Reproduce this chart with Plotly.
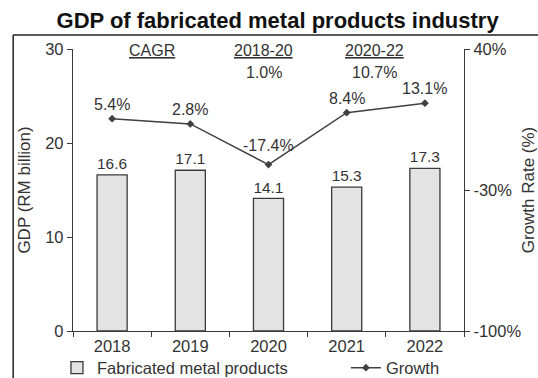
import plotly.graph_objects as go

# Data
years = ["2018", "2019", "2020", "2021", "2022"]
gdp = [16.6, 17.1, 14.1, 15.3, 17.3]          # RM billion
growth = [5.4, 2.8, -17.4, 8.4, 13.1]          # %
growth_label_shift = [4, 4, 9, 4, 4]           # px above point
cagr_periods = ["2018-20", "2020-22"]
cagr_values = ["1.0%", "10.7%"]
y2_ticks = [-100, -30, 40]

FONT = "Liberation Sans, Arial, sans-serif"
INK = "#333333"

fig = go.Figure()

fig.add_trace(go.Bar(
    x=years, y=gdp, name="Fabricated metal products",
    marker=dict(color="#e3e3e3", line=dict(color="#3a3a3a", width=1.3)),
    width=0.385,
    text=[f"{v:.1f}" for v in gdp], textposition="outside",
    textfont=dict(size=16, color=INK, family=FONT),
    cliponaxis=False, legend="legend",
))

fig.add_trace(go.Scatter(
    x=years, y=growth, name="Growth", yaxis="y2",
    mode="lines+markers",
    line=dict(color="#404040", width=1.5),
    marker=dict(symbol="diamond", size=6, color="#404040"),
    legend="legend2",
))

# growth labels above each point (x given as category index)
for i, (g, s) in enumerate(zip(growth, growth_label_shift)):
    fig.add_annotation(x=i, y=g, xref="x", yref="y2", text=f"{g:.1f}%",
                       showarrow=False, yanchor="bottom", yshift=s,
                       font=dict(size=16, color=INK, family=FONT))

# CAGR header
fig.add_annotation(x=0.202, y=0.993, xref="paper", yref="paper", text="CAGR",
                   showarrow=False, xanchor="center", yanchor="middle",
                   font=dict(size=16, color=INK, family=FONT, lineposition="under"))
for xp, per, val in zip([0.488, 0.772], cagr_periods, cagr_values):
    fig.add_annotation(x=xp, y=0.993, xref="paper", yref="paper", text=per,
                       showarrow=False, xanchor="center", yanchor="middle",
                       font=dict(size=16, color=INK, family=FONT, lineposition="under"))
    fig.add_annotation(x=xp, y=0.918, xref="paper", yref="paper", text=val,
                       showarrow=False, xanchor="center", yanchor="middle",
                       font=dict(size=16, color=INK, family=FONT))

# outer frame (left and top edges)
fig.add_shape(type="line", xref="paper", yref="paper",
              x0=-0.153, x1=-0.153, y0=1.05, y1=-0.2,
              line=dict(color="#222222", width=1.5))
fig.add_shape(type="line", xref="paper", yref="paper",
              x0=-0.153, x1=1.3, y0=1.05, y1=1.05,
              line=dict(color="#222222", width=1.5))

axis_common = dict(showgrid=False, zeroline=False, showline=True,
                   linecolor="#3a3a3a", linewidth=1.3, ticks="outside",
                   ticklen=5, tickcolor="#3a3a3a",
                   tickfont=dict(size=16.5, color=INK, family=FONT))

legend_common = dict(orientation="h", yanchor="middle", xanchor="left",
                     font=dict(size=16.5, color=INK, family=FONT),
                     itemwidth=30, bgcolor="rgba(0,0,0,0)")

fig.update_layout(
    width=538, height=378,
    margin=dict(l=73, r=74, t=49, b=47, autoexpand=False),
    paper_bgcolor="white", plot_bgcolor="white",
    title=dict(text="<b>GDP of fabricated metal products industry</b>",
               x=0.516, xanchor="center", y=0.947, yanchor="middle",
               font=dict(size=22, color="#111111", family=FONT)),
    xaxis=dict(**axis_common, type="category", tickson="boundaries",
               range=[-0.5, 4.5]),
    yaxis=dict(**axis_common, range=[0, 30], dtick=10,
               title=dict(text="GDP (RM billion)", standoff=10,
                          font=dict(size=17, color=INK, family=FONT))),
    yaxis2=dict(**axis_common, overlaying="y", side="right",
                range=[-100, 40], tickvals=y2_ticks,
                ticktext=[f"{v}%" for v in y2_ticks],
                title=dict(text="Growth Rate (%)", standoff=8,
                           font=dict(size=17, color=INK, family=FONT))),
    showlegend=True,
    legend=dict(**legend_common, x=-0.041, y=-0.131),
    legend2=dict(**legend_common, x=0.698, y=-0.131),
    bargap=0.6,
)

fig.write_html("out.html")
